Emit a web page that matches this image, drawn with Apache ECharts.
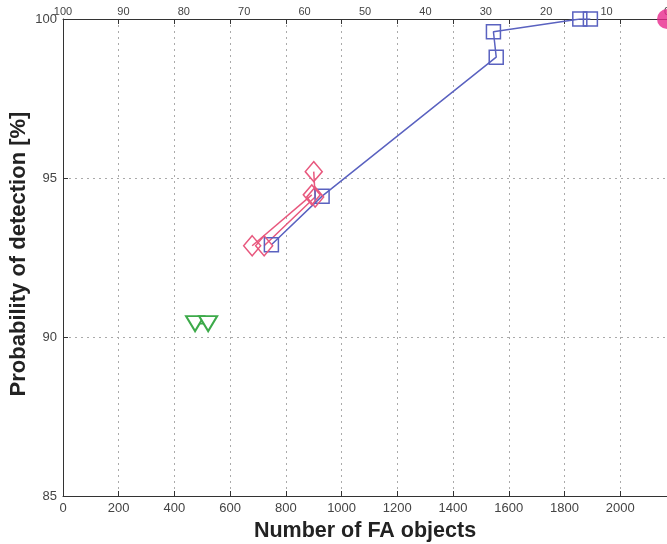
<!DOCTYPE html>
<html><head><meta charset="utf-8">
<script src="https://cdn.jsdelivr.net/npm/echarts@6/dist/echarts.min.js"></script>
<style>html,body{margin:0;padding:0;background:#fff}#c{width:667px;height:544px}</style>
</head><body><div id="c"></div>
<script>
// Data
const xTicks = [0, 200, 400, 600, 800, 1000, 1200, 1400, 1600, 1800, 2000];
const topTicks = [100, 90, 80, 70, 60, 50, 40, 30, 20, 10, 0];
const yTicks = [85, 90, 95, 100];
const blueX = [748, 930, 1555, 1545, 1855, 1893];
const blueY = [92.9, 94.43, 98.8, 99.6, 100, 100];
const pinkAX = [679, 893];
const pinkAY = [92.87, 94.47];
const pinkBX = [722, 905, 900];
const pinkBY = [92.87, 94.4, 95.2];
const greenX = [474, 521];
const greenY = [90.42, 90.42];
const magX = [2168];
const magY = [100];

const zip = (a, b) => a.map((v, i) => [v, b[i]]);
const font = 'Liberation Sans, Arial, sans-serif';
const chart = echarts.init(document.getElementById('c'));
chart.setOption({
  animation: false,
  grid: {left: 63, right: 0, top: 19, bottom: 48, containLabel: false, outerBoundsMode: 'none'},
  graphic: [{
    type: 'text', x: 19, y: 254, rotation: Math.PI / 2,
    style: {text: 'Probability of detection [%]', font: 'bold 22px "Liberation Sans", Arial, sans-serif',
      fill: '#222', textAlign: 'center', textVerticalAlign: 'middle'}
  }],
  xAxis: [
    {type: 'value', position: 'bottom', min: 0, max: 2168, interval: 200,
     axisLine: {lineStyle: {color: '#333', width: 1}},
     axisTick: {inside: true, length: 5, lineStyle: {color: '#333'}},
     axisLabel: {color: '#444', fontFamily: font, fontSize: 13, margin: 6,
       formatter: v => xTicks.includes(v) ? String(v) : ''},
     splitLine: {show: true, lineStyle: {color: '#aaa', type: [2, 4]}},
     name: 'Number of FA objects', nameLocation: 'middle', nameGap: 23,
     nameTextStyle: {fontFamily: font, fontSize: 21.5, fontWeight: 'bold', color: '#222'}},
    {type: 'value', position: 'top', min: 0, max: 100, interval: 10, inverse: true,
     axisLine: {show: false}, axisTick: {show: false}, splitLine: {show: false},
     axisLabel: {color: '#444', fontFamily: font, fontSize: 11, margin: 2,
       formatter: v => topTicks.includes(v) ? String(v) : ''}},
    {type: 'value', position: 'top', min: 0, max: 2168, interval: 200,
     axisLine: {lineStyle: {color: '#333'}},
     axisTick: {inside: true, length: 5, lineStyle: {color: '#333'}},
     axisLabel: {show: false}, splitLine: {show: false}}
  ],
  yAxis: [
    {type: 'value', min: 85, max: 100, interval: 5, position: 'left',
     axisLine: {show: true, lineStyle: {color: '#333'}},
     axisTick: {show: true, inside: true, length: 5, lineStyle: {color: '#333'}},
     axisLabel: {color: '#444', fontFamily: font, fontSize: 13, margin: 6,
       formatter: v => yTicks.includes(v) ? String(v) : ''},
     splitLine: {show: true, lineStyle: {color: '#aaa', type: [2, 4]}}},
    {type: 'value', min: 85, max: 100, interval: 5, position: 'right',
     axisLine: {show: true, lineStyle: {color: '#333'}},
     axisTick: {show: false}, axisLabel: {show: false}, splitLine: {show: false}}
  ],
  series: [
    {type: 'line', data: zip(greenX, greenY), symbol: 'triangle', symbolRotate: 180,
     symbolSize: [18, 15], itemStyle: {color: '#fff', borderColor: '#3daa4a', borderWidth: 2},
     lineStyle: {color: '#3daa4a', width: 1.5}},
    {type: 'line', data: zip(blueX, blueY), symbol: 'rect', symbolSize: 14,
     itemStyle: {color: 'rgba(255,255,255,0)', borderColor: '#5a62c0', borderWidth: 1.5},
     lineStyle: {color: '#5a62c0', width: 1.5}},
    {type: 'line', data: zip(pinkAX, pinkAY), symbol: 'diamond', symbolSize: [17, 20],
     itemStyle: {color: 'rgba(255,255,255,0)', borderColor: '#e8587e', borderWidth: 1.5},
     lineStyle: {color: '#e8587e', width: 1.5}},
    {type: 'line', data: zip(pinkBX, pinkBY), symbol: 'diamond', symbolSize: [17, 20],
     itemStyle: {color: 'rgba(255,255,255,0)', borderColor: '#e8587e', borderWidth: 1.5},
     lineStyle: {color: '#e8587e', width: 1.5}},
    {type: 'scatter', data: zip(magX, magY), symbol: 'circle', symbolSize: 20, clip: false,
     itemStyle: {color: '#e8288c'}}
  ]
});
</script></body></html>
